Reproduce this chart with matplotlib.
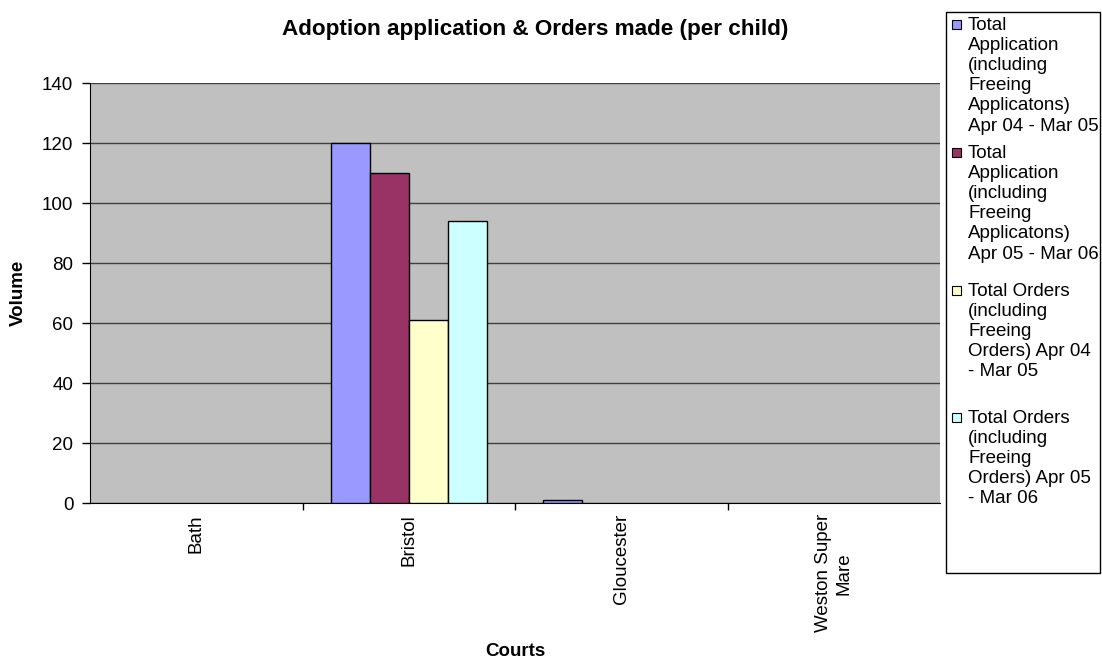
import numpy as np
import matplotlib.pyplot as plt
from matplotlib.patches import Rectangle

plt.rcParams['font.family'] = ['Liberation Sans', 'DejaVu Sans']

courts = ['Bath', 'Bristol', 'Gloucester', 'Weston Super\nMare']
series_names = [
    'Total\nApplication\n(including\nFreeing\nApplicatons)\nApr 04 - Mar 05',
    'Total\nApplication\n(including\nFreeing\nApplicatons)\nApr 05 - Mar 06',
    'Total Orders\n(including\nFreeing\nOrders) Apr 04\n- Mar 05',
    'Total Orders\n(including\nFreeing\nOrders) Apr 05\n- Mar 06',
]
apps_0405 = [0, 120, 1, 0]
apps_0506 = [0, 110, 0, 0]
orders_0405 = [0, 61, 0, 0]
orders_0506 = [0, 94, 0, 0]
series_values = [apps_0405, apps_0506, orders_0405, orders_0506]
colors = ['#9999FF', '#993366', '#FFFFCC', '#CCFFFF']

W, H = 1102, 658
FS = 13.5
fig = plt.figure(figsize=(W / 100, H / 100), dpi=100)
ax = fig.add_axes([90 / W, (H - 503) / H, 850 / W, 420 / H])
ax.set_facecolor('#C0C0C0')

x = np.arange(len(courts))
bw = 0.183
for i, (vals, col) in enumerate(zip(series_values, colors)):
    vals = np.array(vals, dtype=float)
    # empty cells are not drawn at all
    shown = vals > 0
    ax.bar((x + (i - 1.5) * bw)[shown], vals[shown], bw, color=col,
           edgecolor='black', linewidth=1.0, zorder=3)

ax.set_xlim(-0.5, len(courts) - 0.5)
ax.set_ylim(0, 140)
ax.set_yticks(np.arange(0, 141, 20))
ax.yaxis.grid(True, color='#404040', linewidth=1.0, zorder=0)
ax.set_axisbelow(True)
ax.tick_params(axis='y', direction='out', length=6, width=1, labelsize=FS, pad=6)

ax.set_xticks(x)
ax.set_xticklabels(courts, rotation=90, fontsize=FS, ha='center', va='top',
                   multialignment='center')
ax.tick_params(axis='x', which='major', length=0, pad=8)
ax.set_xticks(np.arange(0.5, len(courts) - 1, 1), minor=True)
ax.tick_params(axis='x', which='minor', direction='out', length=5, width=1)

for side in ['top', 'right']:
    ax.spines[side].set_visible(False)
ax.spines['left'].set_color('black')
ax.spines['bottom'].set_color('black')

fig.text(535 / W, 1 - 30 / H, 'Adoption application & Orders made (per child)',
         ha='center', va='center', fontsize=16.2, fontweight='bold')
fig.text(18 / W, 1 - 293 / H, 'Volume', rotation=90, ha='center', va='center',
         fontsize=FS, fontweight='bold')
fig.text(515 / W, 1 - 651 / H, 'Courts', ha='center', va='center',
         fontsize=FS, fontweight='bold')

# legend box drawn by hand to keep the wrapped entries in place
fig.patches.append(Rectangle((946 / W, 1 - 573 / H), 154 / W, 561 / H,
                             transform=fig.transFigure, facecolor='white',
                             edgecolor='black', linewidth=1.0))
entry_tops = [17, 145, 283, 410]
for name, col, top in zip(series_names, colors, entry_tops):
    fig.patches.append(Rectangle((952 / W, 1 - (top + 12) / H), 9 / W, 9 / H,
                                 transform=fig.transFigure, facecolor=col,
                                 edgecolor='black', linewidth=0.8))
    fig.text(968 / W, 1 - top / H, name, ha='left', va='top', fontsize=FS,
             linespacing=1.24)

fig.savefig('out.png', dpi=100)
